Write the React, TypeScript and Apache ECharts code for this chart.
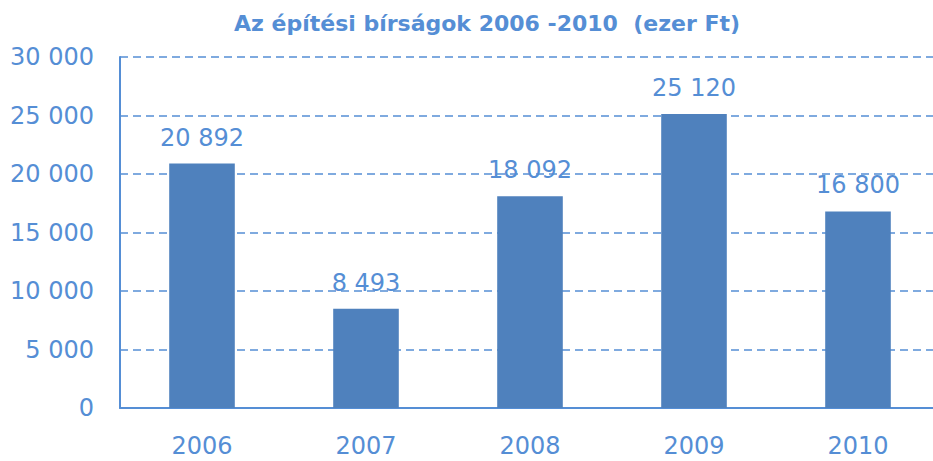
import React, { useEffect, useRef } from "react";
import * as echarts from "echarts";

const categories = ["2006", "2007", "2008", "2009", "2010"];
const values = [20892, 8493, 18092, 25120, 16800];
const titleText = "Az építési bírságok 2006 -2010  (ezer Ft)";

const fmt = (v: number) => {
  const s = String(Math.round(v));
  return s.replace(/\B(?=(\d{3})+(?!\d))/g, " ");
};

const TEXT = "#558ED5";
const BAR = "#4F81BD";
const FONT = "'DejaVu Sans', sans-serif";

export default function App() {
  const ref = useRef<HTMLDivElement>(null);
  useEffect(() => {
    document.body.style.margin = "0";
    if (!ref.current) return;
    const chart = echarts.init(ref.current, undefined, { renderer: "svg" });
    chart.setOption({
      animation: false,
      title: {
        text: titleText,
        left: 229,
        top: 7,
        textStyle: { color: TEXT, fontSize: 22, fontWeight: "bold", fontFamily: FONT },
      },
      grid: { left: 120, width: 820, top: 57, bottom: 53, outerBoundsMode: "none", containLabel: false },
      xAxis: {
        type: "category",
        data: categories,
        axisLine: { show: true, lineStyle: { color: TEXT, width: 2 } },
        axisTick: { show: false },
        axisLabel: { color: TEXT, fontSize: 24, fontFamily: FONT, margin: 26 },
      },
      yAxis: {
        type: "value",
        min: 0,
        max: 30000,
        interval: 5000,
        axisLine: { show: true, lineStyle: { color: TEXT, width: 2 } },
        axisTick: { show: false },
        axisLabel: {
          color: TEXT,
          fontSize: 24,
          fontFamily: FONT,
          margin: 26,
          formatter: (v: number) => fmt(v),
        },
        splitLine: {
          show: true,
          lineStyle: { color: TEXT, width: 1.5, type: [8, 5] },
        },
      },
      series: [
        {
          type: "bar",
          data: values,
          barWidth: "40%",
          itemStyle: { color: BAR },
          label: {
            show: true,
            position: "top",
            distance: 14,
            color: TEXT,
            fontSize: 24,
            fontFamily: FONT,
            formatter: (p: any) => fmt(p.value),
          },
        },
      ],
    });
    return () => chart.dispose();
  }, []);
  return <div ref={ref} style={{ width: 933, height: 461 }} />;
}
